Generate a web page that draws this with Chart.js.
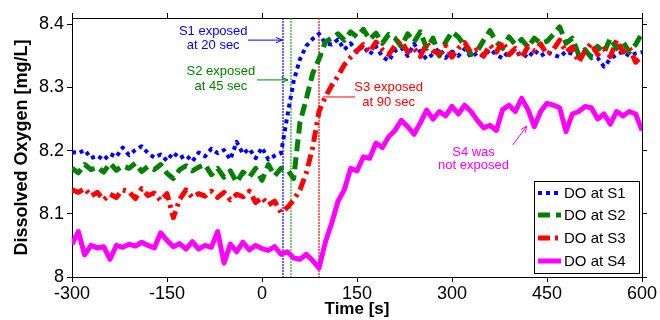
<!DOCTYPE html>
<html>
<head>
<meta charset="utf-8">
<script src="https://cdn.jsdelivr.net/npm/chart.js@4"></script>
<style>
  body { margin: 0; background: #fff; }
  canvas { display: block; }
</style>
</head>
<body>
<canvas id="doChart" width="660" height="320"></canvas>
<script>
// time axis, seconds relative to exposure
const timeSec = [
  -300, -290, -280, -270, -260, -250, -240, -230, -220, -210,
  -200, -190, -180, -170, -160, -150, -140, -130, -120, -110,
  -100, -90, -80, -70, -60, -50, -40, -30, -20, -10,
  0, 10, 20, 30, 40, 50, 60, 70, 80, 90,
  100, 110, 120, 130, 140, 150, 160, 170, 180, 190,
  200, 210, 220, 230, 240, 250, 260, 270, 280, 290,
  300, 310, 320, 330, 340, 350, 360, 370, 380, 390,
  400, 410, 420, 430, 440, 450, 460, 470, 480, 490,
  500, 510, 520, 530, 540, 550, 560, 570, 580, 590,
  600
];

// dissolved oxygen, mg/L
const doS1 = [
  8.198, 8.196, 8.201, 8.188, 8.192, 8.185, 8.195, 8.190, 8.205, 8.193,
  8.201, 8.207, 8.196, 8.189, 8.194, 8.184, 8.197, 8.188, 8.193, 8.183,
  8.197, 8.191, 8.203, 8.196, 8.201, 8.186, 8.214, 8.195, 8.203, 8.188,
  8.205, 8.186, 8.192, 8.196, 8.255, 8.310, 8.345, 8.366, 8.377, 8.385,
  8.370, 8.368, 8.376, 8.360, 8.370, 8.356, 8.366, 8.352, 8.365, 8.349,
  8.342, 8.358, 8.363, 8.350, 8.369, 8.356, 8.345, 8.353, 8.362, 8.347,
  8.357, 8.350, 8.361, 8.348, 8.355, 8.349, 8.360, 8.352, 8.346, 8.358,
  8.351, 8.355, 8.347, 8.359, 8.350, 8.356, 8.352, 8.348, 8.357, 8.353,
  8.351, 8.358, 8.350, 8.347, 8.333, 8.345, 8.352, 8.357, 8.350, 8.354,
  8.356
];
const doS2 = [
  8.172, 8.165, 8.178, 8.170, 8.174, 8.166, 8.180, 8.169, 8.176, 8.172,
  8.180, 8.167, 8.175, 8.170, 8.178, 8.164, 8.156, 8.170, 8.176, 8.168,
  8.174, 8.178, 8.162, 8.172, 8.158, 8.168, 8.150, 8.166, 8.158, 8.172,
  8.153, 8.178, 8.160, 8.172, 8.170, 8.156, 8.245, 8.282, 8.322, 8.345,
  8.372, 8.378, 8.385, 8.375, 8.388, 8.380, 8.392, 8.376, 8.386, 8.370,
  8.384, 8.378, 8.365, 8.385, 8.372, 8.388, 8.362, 8.378, 8.350, 8.372,
  8.388, 8.380, 8.366, 8.352, 8.358, 8.375, 8.390, 8.372, 8.362, 8.380,
  8.368, 8.376, 8.364, 8.378, 8.370, 8.373, 8.384, 8.396, 8.370, 8.378,
  8.352, 8.360, 8.347, 8.365, 8.355, 8.378, 8.362, 8.372, 8.356, 8.368,
  8.386
];
const doS3 = [
  8.138, 8.134, 8.140, 8.128, 8.134, 8.122, 8.131, 8.126, 8.138, 8.135,
  8.124, 8.140, 8.129, 8.133, 8.121, 8.132, 8.094, 8.123, 8.138, 8.126,
  8.132, 8.128, 8.136, 8.126, 8.134, 8.122, 8.131, 8.127, 8.136, 8.118,
  8.126, 8.114, 8.120, 8.102, 8.110, 8.122, 8.138, 8.165, 8.205, 8.262,
  8.285, 8.303, 8.318, 8.336, 8.348, 8.358, 8.368, 8.356, 8.372, 8.360,
  8.352, 8.366, 8.374, 8.356, 8.362, 8.349, 8.370, 8.358, 8.353, 8.366,
  8.348, 8.362, 8.371, 8.355, 8.360, 8.350, 8.367, 8.356, 8.373, 8.352,
  8.362, 8.347, 8.365, 8.358, 8.369, 8.352, 8.360, 8.375, 8.356, 8.364,
  8.340, 8.358, 8.370, 8.352, 8.361, 8.349, 8.375, 8.356, 8.363, 8.340,
  8.350
];
const doS4 = [
  8.052, 8.072, 8.035, 8.050, 8.046, 8.048, 8.028, 8.050, 8.047, 8.052,
  8.049, 8.055, 8.050, 8.046, 8.070, 8.058, 8.048, 8.053, 8.044, 8.056,
  8.044, 8.050, 8.047, 8.072, 8.022, 8.052, 8.040, 8.055, 8.043, 8.050,
  8.045, 8.042, 8.048, 8.036, 8.040, 8.030, 8.028, 8.036, 8.026, 8.014,
  8.055, 8.085, 8.120, 8.138, 8.172, 8.168, 8.190, 8.188, 8.212, 8.205,
  8.222, 8.232, 8.248, 8.238, 8.226, 8.244, 8.264, 8.250, 8.262, 8.255,
  8.270, 8.258, 8.272, 8.262, 8.248, 8.236, 8.240, 8.232, 8.265, 8.272,
  8.262, 8.283, 8.265, 8.238, 8.262, 8.275, 8.272, 8.268, 8.230, 8.258,
  8.262, 8.270, 8.268, 8.250, 8.258, 8.242, 8.262, 8.255, 8.262, 8.258,
  8.232
];

const seriesLabels = ['DO at S1', 'DO at S2', 'DO at S3', 'DO at S4'];
const xTicks = [-300, -150, 0, 150, 300, 450, 600];
const yTicks = [8, 8.1, 8.2, 8.3, 8.4];
const exposureLines = [33, 45, 90];
const exposureColors = ['#0000ff', '#22aa22', '#ff0000'];

const BLUE = '#0000ff', GREEN = '#008000', RED = '#ff0000', MAGENTA = '#ff00ff';
const FONT = "'Liberation Sans', Arial, sans-serif";

function toPoints(vals) {
  return vals.map((v, i) => ({ x: timeSec[i], y: v }));
}

// text notes and arrows, in data coordinates
const notes = [
  { text: ['S1 exposed', 'at 20 sec'], t: -77, v: [8.389, 8.366], color: BLUE },
  { text: ['S2 exposed', 'at 45 sec'], t: -65, v: [8.326, 8.302], color: GREEN },
  { text: ['S3 exposed', 'at 90 sec'], t: 200, v: [8.300, 8.277], color: RED },
  { text: ['S4 was', 'not exposed'], t: 334, v: [8.198, 8.176], color: MAGENTA }
];
const arrows = [
  { from: [-22, 8.375], to: [32, 8.375], color: BLUE, head: true },
  { from: [-8, 8.312], to: [41, 8.312], color: GREEN, head: true },
  { from: [147, 8.285], to: [96, 8.285], color: RED, head: false },
  { from: [396, 8.209], to: [418, 8.239], color: MAGENTA, head: true }
];

const annotate = {
  id: 'annotate',
  beforeDatasetsDraw(chart) {
    const { ctx, chartArea, scales: { x } } = chart;
    ctx.save();
    ctx.lineWidth = 1.2;
    ctx.setLineDash([2, 1]);
    exposureLines.forEach((t, i) => {
      const px = Math.round(x.getPixelForValue(t));
      ctx.strokeStyle = exposureColors[i];
      ctx.beginPath();
      ctx.moveTo(px, chartArea.top);
      ctx.lineTo(px, chartArea.bottom);
      ctx.stroke();
    });
    ctx.restore();
  },
  afterDatasetsDraw(chart) {
    const { ctx, chartArea, scales: { x, y } } = chart;
    ctx.save();
    // notes
    ctx.font = '13px ' + FONT;
    ctx.textAlign = 'center';
    ctx.textBaseline = 'middle';
    notes.forEach(n => {
      ctx.fillStyle = n.color;
      n.text.forEach((s, i) => ctx.fillText(s, x.getPixelForValue(n.t), y.getPixelForValue(n.v[i])));
    });
    // arrows
    arrows.forEach(a => {
      const x0 = x.getPixelForValue(a.from[0]), y0 = y.getPixelForValue(a.from[1]);
      const x1 = x.getPixelForValue(a.to[0]), y1 = y.getPixelForValue(a.to[1]);
      ctx.strokeStyle = a.color;
      ctx.lineWidth = 1;
      ctx.beginPath();
      ctx.moveTo(x0, y0);
      ctx.lineTo(x1, y1);
      ctx.stroke();
      if (a.head) {
        const ang = Math.atan2(y1 - y0, x1 - x0);
        ctx.beginPath();
        ctx.moveTo(x1 - 7 * Math.cos(ang - 0.4), y1 - 7 * Math.sin(ang - 0.4));
        ctx.lineTo(x1, y1);
        ctx.lineTo(x1 - 7 * Math.cos(ang + 0.4), y1 - 7 * Math.sin(ang + 0.4));
        ctx.stroke();
      }
    });
    // legend box
    const w = 105, h = 92;
    const left = chartArea.right - 3 - w, top = chartArea.bottom - 4 - h;
    ctx.fillStyle = '#fff';
    ctx.fillRect(left, top, w, h);
    ctx.strokeStyle = '#000';
    ctx.lineWidth = 1;
    ctx.setLineDash([]);
    ctx.strokeRect(Math.round(left) + 0.5, Math.round(top) + 0.5, w, h);
    const rows = [12, 34, 57, 80];
    ctx.font = '15px ' + FONT;
    ctx.textAlign = 'left';
    ctx.fillStyle = '#000';
    chart.data.datasets.forEach((ds, i) => {
      const ry = top + rows[i];
      ctx.save();
      ctx.strokeStyle = ds.borderColor;
      ctx.lineWidth = ds.borderWidth;
      ctx.setLineDash(ds.borderDash || []);
      ctx.beginPath();
      ctx.moveTo(left + 4, ry);
      ctx.lineTo(left + 27, ry);
      ctx.stroke();
      ctx.restore();
      ctx.fillText(seriesLabels[i], left + 30, ry + 1);
    });
    ctx.restore();
  }
};

const axisGrid = { display: true, drawOnChartArea: false, drawTicks: true, tickLength: 5, color: '#000' };
const axisBorder = { display: true, color: '#000', width: 1 };

new Chart(document.getElementById('doChart'), {
  type: 'line',
  data: {
    datasets: [
      { label: seriesLabels[0], data: toPoints(doS1), borderColor: BLUE, borderWidth: 4, borderDash: [4, 4], order: 3 },
      { label: seriesLabels[1], data: toPoints(doS2), borderColor: GREEN, borderWidth: 5, borderDash: [12, 6], order: 2 },
      { label: seriesLabels[2], data: toPoints(doS3), borderColor: RED, borderWidth: 5, borderDash: [12, 5, 3, 5], order: 1 },
      { label: seriesLabels[3], data: toPoints(doS4), borderColor: MAGENTA, borderWidth: 5, order: 0 }
    ]
  },
  options: {
    responsive: false,
    animation: false,
    layout: { padding: 0 },
    elements: {
      point: { radius: 0 },
      line: { tension: 0, fill: false, borderCapStyle: 'butt', borderJoinStyle: 'round' }
    },
    plugins: { legend: { display: false }, tooltip: { enabled: false } },
    scales: {
      x: {
        type: 'linear', position: 'bottom', min: -300, max: 600,
        afterBuildTicks: s => { s.ticks = xTicks.map(v => ({ value: v })); },
        afterFit: s => { s.height = 43; },
        ticks: { color: '#000', font: { size: 18, family: FONT }, padding: 1, maxRotation: 0 },
        grid: axisGrid, border: axisBorder,
        title: { display: true, text: 'Time [s]', color: '#000', font: { size: 17, weight: 'bold', family: FONT }, padding: 0 }
      },
      x2: {
        type: 'linear', position: 'top', min: -300, max: 600,
        afterBuildTicks: s => { s.ticks = xTicks.map(v => ({ value: v })); },
        afterFit: s => { s.height = 18; },
        ticks: { display: false },
        grid: axisGrid, border: axisBorder
      },
      y: {
        type: 'linear', position: 'left', min: 8, max: 8.41,
        afterBuildTicks: s => { s.ticks = yTicks.map(v => ({ value: v })); },
        afterFit: s => { s.width = 72; },
        ticks: { color: '#000', font: { size: 18, family: FONT }, padding: 3, callback: v => String(+v.toFixed(1)) },
        grid: axisGrid, border: axisBorder,
        title: { display: true, text: 'Dissolved Oxygen [mg/L]', color: '#000', font: { size: 18, weight: 'bold', family: FONT }, padding: { top: 11, bottom: 0 } }
      },
      y2: {
        type: 'linear', position: 'right', min: 8, max: 8.41,
        afterBuildTicks: s => { s.ticks = yTicks.map(v => ({ value: v })); },
        afterFit: s => { s.width = 18; },
        ticks: { display: false },
        grid: axisGrid, border: axisBorder
      }
    }
  },
  plugins: [annotate]
});
</script>
</body>
</html>
